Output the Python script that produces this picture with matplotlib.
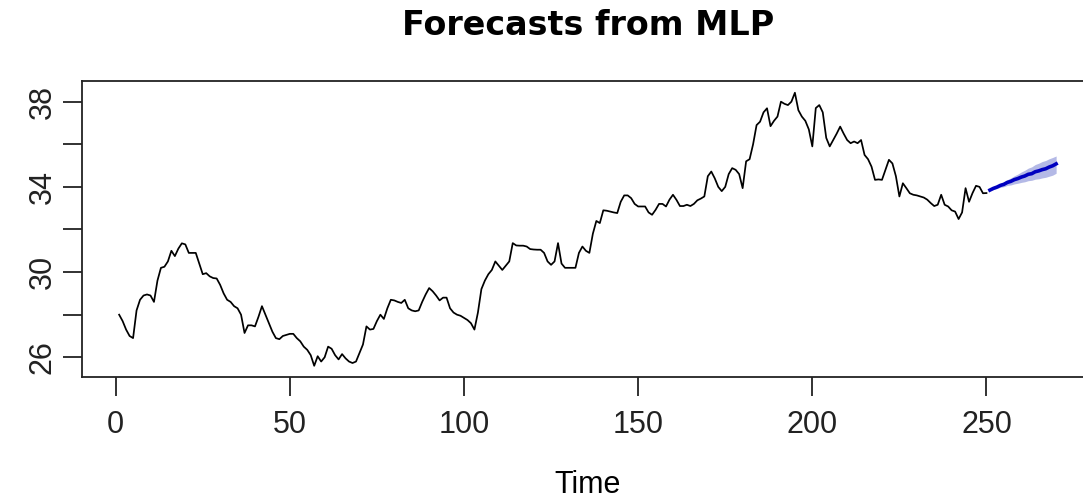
import matplotlib
matplotlib.use("Agg")
import matplotlib.pyplot as plt
from matplotlib import font_manager
import numpy as np

# observed series, t = 1..250
serie = [
    28.0, 27.7, 27.3, 27.0, 26.9, 28.2, 28.7, 28.9, 28.95, 28.9,
    28.6, 29.6, 30.2, 30.25, 30.5, 31.0, 30.75, 31.1, 31.35, 31.3,
    30.9, 30.9, 30.9, 30.4, 29.9, 29.95, 29.8, 29.72, 29.7, 29.4,
    29.0, 28.7, 28.6, 28.4, 28.3, 28.0, 27.14, 27.5, 27.5, 27.45,
    27.9, 28.4, 28.0, 27.6, 27.2, 26.9, 26.85, 27.0, 27.05, 27.1,
    27.1, 26.9, 26.75, 26.5, 26.35, 26.1, 25.6, 26.05, 25.8, 26.0,
    26.5, 26.4, 26.1, 25.9, 26.15, 25.95, 25.8, 25.73, 25.8, 26.2,
    26.6, 27.45, 27.3, 27.33, 27.7, 28.0, 27.8, 28.3, 28.7, 28.67,
    28.6, 28.55, 28.7, 28.3, 28.2, 28.16, 28.2, 28.6, 28.95, 29.25,
    29.1, 28.9, 28.67, 28.8, 28.8, 28.3, 28.1, 28.0, 27.95, 27.85,
    27.75, 27.6, 27.3, 28.1, 29.2, 29.6, 29.9, 30.1, 30.5, 30.3,
    30.1, 30.3, 30.5, 31.36, 31.25, 31.24, 31.24, 31.2, 31.08, 31.06,
    31.05, 31.05, 30.9, 30.5, 30.34, 30.5, 31.36, 30.4, 30.2, 30.2,
    30.2, 30.2, 30.9, 31.2, 31.0, 30.9, 31.8, 32.4, 32.3, 32.9,
    32.88, 32.84, 32.8, 32.77, 33.3, 33.6, 33.6, 33.47, 33.2, 33.08,
    33.08, 33.08, 32.8, 32.69, 32.92, 33.2, 33.2, 33.08, 33.4, 33.63,
    33.39, 33.1, 33.1, 33.16, 33.1, 33.2, 33.37, 33.45, 33.55, 34.5,
    34.72, 34.4, 34.0, 33.8, 34.0, 34.6, 34.88, 34.8, 34.6, 33.94,
    35.2, 35.3, 36.0, 36.9, 37.06, 37.5, 37.69, 36.85, 37.1, 37.3,
    38.0, 37.9, 37.84, 38.0, 38.42, 37.6, 37.3, 37.1, 36.7, 35.9,
    37.7, 37.84, 37.5, 36.3, 35.9, 36.2, 36.5, 36.83, 36.5, 36.2,
    36.05, 36.13, 36.05, 36.2, 35.5, 35.3, 34.95, 34.33, 34.35, 34.33,
    34.8, 35.27, 35.1, 34.5, 33.55, 34.17, 33.94, 33.7, 33.63, 33.6,
    33.55, 33.5, 33.4, 33.24, 33.1, 33.16, 33.63, 33.16, 33.08, 32.9,
    32.84, 32.49, 32.8, 33.94, 33.3, 33.71, 34.05, 34.0, 33.7, 33.71,
]

# MLP mean forecast, t = 251..270, with the spread of the ensemble
previsao = [
    33.85, 33.93, 33.99, 34.07, 34.12, 34.21, 34.26, 34.34, 34.39, 34.46,
    34.51, 34.59, 34.62, 34.71, 34.75, 34.81, 34.85, 34.93, 34.99, 35.08,
]
banda_inf = [
    33.82, 33.88, 33.92, 33.98, 34.01, 34.07, 34.09, 34.14, 34.17, 34.21,
    34.24, 34.29, 34.31, 34.36, 34.38, 34.42, 34.45, 34.50, 34.55, 34.64,
]
banda_sup = [
    33.88, 33.98, 34.06, 34.16, 34.23, 34.34, 34.42, 34.52, 34.60, 34.70,
    34.78, 34.88, 34.94, 35.05, 35.11, 35.19, 35.24, 35.32, 35.38, 35.45,
]

y_ticks = [26, 28, 30, 32, 34, 36, 38]
y_rotulos = ["26", "", "30", "", "34", "", "38"]
x_ticks = [0, 50, 100, 150, 200, 250]

t_obs = np.arange(1, len(serie) + 1)
t_prev = np.arange(len(serie) + 1, len(serie) + len(previsao) + 1)

nomes = {f.name for f in font_manager.fontManager.ttflist}
if "Liberation Sans Narrow" in nomes:
    fonte, tam = "Liberation Sans Narrow", 24
else:
    fonte, tam = "Liberation Sans", 22

fig = plt.figure(figsize=(10.83, 5.01), dpi=100)
ax = fig.add_axes([0.0754, 0.2469, 0.9344, 0.5914])

ax.fill_between(t_prev, banda_inf, banda_sup, color="#b4b9e6", lw=0)
ax.plot(t_obs, serie, color="black", lw=1.25)
ax.plot(t_prev, previsao, color="#0000c0", lw=2.6)

ax.set_xlim(-9.76, 280.76)
ax.set_ylim(25.06, 38.97)

for s in ax.spines.values():
    s.set_linewidth(1.3)
    s.set_color("#222222")

ax.set_xticks(x_ticks)
ax.set_xticklabels([str(v) for v in x_ticks], fontfamily=fonte, fontsize=tam)
ax.set_yticks(y_ticks)
ax.set_yticklabels(y_rotulos, fontfamily=fonte, fontsize=tam,
                   rotation=90, va="center")
ax.tick_params(axis="x", length=13.5, width=1.3, pad=10, colors="#222222")
ax.tick_params(axis="y", length=13.5, width=1.3, pad=4, colors="#222222")

fig.text(0.5426, 0.95, "Forecasts from MLP", ha="center", va="center",
         fontsize=24, fontweight="bold", family="DejaVu Sans")
fig.text(0.5426, 0.032, "Time", ha="center", va="center",
         fontfamily=fonte, fontsize=tam)

fig.savefig("out.png", dpi=100)
